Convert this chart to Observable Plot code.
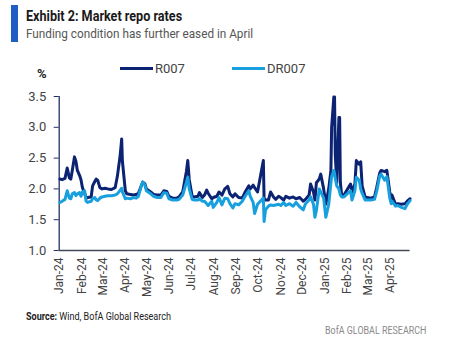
<!DOCTYPE html>
<html><head><meta charset="utf-8">
<script src="https://cdn.jsdelivr.net/npm/d3@7"></script>
<script src="https://cdn.jsdelivr.net/npm/@observablehq/plot@0.6"></script>
<style>
html,body{margin:0;padding:0;background:#fff;}
body{width:466px;height:344px;position:relative;overflow:hidden;font-family:"Roboto",sans-serif;color:#222;}
#bar{position:absolute;left:11px;top:5px;width:7px;height:37px;background:#1f5fc4;}
.sx{transform-origin:0 50%;}
#title{position:absolute;left:26px;top:8px;font-size:14px;font-weight:bold;color:#1a1a1a;white-space:nowrap;transform:scaleX(0.9);}
#subtitle{position:absolute;left:26px;top:25px;font-size:13.5px;color:#555;white-space:nowrap;transform:scaleX(0.87);}
#pct{position:absolute;left:37px;top:66px;font-size:13px;font-weight:bold;color:#222;}
.leg{position:absolute;top:61px;font-size:13px;color:#444;white-space:nowrap;}
.leg span.sw{display:inline-block;width:33px;height:3.5px;vertical-align:middle;margin-right:2px;margin-top:-2px;}
#chart{position:absolute;left:0;top:60px;}
#source{position:absolute;left:26px;top:310px;font-size:10.5px;color:#222;white-space:nowrap;transform:scaleX(0.86);}
#brand{position:absolute;left:325px;top:324px;font-size:10.5px;color:#8a8a8a;white-space:nowrap;transform:scaleX(0.85);}
</style></head><body>
<div id="bar"></div>
<div id="title" class="sx">Exhibit 2: Market repo rates</div>
<div id="subtitle" class="sx">Funding condition has further eased in April</div>
<div id="pct">%</div>
<div class="leg" id="leg1" style="left:120px"></div>
<div class="leg" id="leg2" style="left:232px"></div>
<div id="chart"></div>
<div id="source" class="sx"><b>Source:</b> Wind, BofA Global Research</div>
<div id="brand" class="sx">BofA GLOBAL RESEARCH</div>
<script>
const dates = [
"2024-01-02","2024-01-05","2024-01-09","2024-01-12","2024-01-15","2024-01-17","2024-01-19","2024-01-22","2024-01-24","2024-01-26",
"2024-01-29","2024-01-31","2024-02-02","2024-02-05","2024-02-07","2024-02-09","2024-02-14","2024-02-16","2024-02-19","2024-02-21",
"2024-02-23","2024-02-26","2024-02-29","2024-03-04","2024-03-08","2024-03-13","2024-03-18","2024-03-21","2024-03-25","2024-03-27",
"2024-03-28","2024-04-01","2024-04-03","2024-04-08","2024-04-12","2024-04-16","2024-04-19","2024-04-23","2024-04-25","2024-04-28",
"2024-04-30","2024-05-06","2024-05-10","2024-05-15","2024-05-20","2024-05-24","2024-05-28","2024-05-31","2024-06-05","2024-06-11",
"2024-06-14","2024-06-19","2024-06-24","2024-06-26","2024-06-28","2024-07-02","2024-07-05","2024-07-10","2024-07-12","2024-07-16",
"2024-07-19","2024-07-22","2024-07-24","2024-07-29","2024-07-31","2024-08-05","2024-08-08","2024-08-12","2024-08-16","2024-08-20",
"2024-08-23","2024-08-27","2024-08-30","2024-09-04","2024-09-09","2024-09-13","2024-09-18","2024-09-20","2024-09-24","2024-09-26",
"2024-09-30","2024-10-08","2024-10-09","2024-10-11","2024-10-15","2024-10-18","2024-10-22","2024-10-25","2024-10-29","2024-11-01",
"2024-11-05","2024-11-08","2024-11-13","2024-11-18","2024-11-22","2024-11-27","2024-12-02","2024-12-05","2024-12-10","2024-12-12",
"2024-12-16","2024-12-18","2024-12-20","2024-12-24","2024-12-26","2024-12-30","2025-01-02","2025-01-06","2025-01-09","2025-01-10",
"2025-01-13","2025-01-14","2025-01-15","2025-01-17","2025-01-20","2025-01-21","2025-01-22","2025-01-24","2025-01-27","2025-02-05",
"2025-02-07","2025-02-11","2025-02-13","2025-02-17","2025-02-19","2025-02-21","2025-02-25","2025-02-28","2025-03-05","2025-03-10",
"2025-03-13","2025-03-17","2025-03-19","2025-03-24","2025-03-27","2025-03-31","2025-04-02","2025-04-03","2025-04-08","2025-04-11",
"2025-04-16","2025-04-21","2025-04-24","2025-04-28"];
const r007 = [
2.16,2.15,2.17,2.34,2.18,2.16,2.30,2.52,2.45,2.30,
2.22,2.15,2.02,1.93,1.85,1.86,1.87,2.05,2.12,2.16,
2.14,2.02,2.00,2.01,2.00,1.99,2.02,2.20,2.55,2.81,
2.45,1.97,1.92,1.91,1.90,1.91,1.93,2.05,2.11,2.08,
2.00,1.95,1.91,1.90,1.90,1.97,1.96,1.88,1.85,1.85,
1.87,1.95,2.28,2.46,2.15,1.88,1.87,1.88,1.94,1.86,
1.90,1.98,1.93,1.84,1.86,1.88,1.95,1.90,2.00,2.04,
1.92,1.87,1.92,1.86,1.85,1.95,2.05,2.00,2.06,2.02,
1.95,2.46,1.85,1.82,1.82,1.95,1.87,1.83,1.88,1.86,
1.82,1.88,1.85,1.87,1.84,1.86,1.80,1.83,1.90,2.08,
1.95,1.82,2.10,2.16,2.24,2.00,1.75,2.00,2.30,3.00,
3.49,3.49,2.55,2.10,3.16,3.16,2.10,1.88,1.90,2.08,
1.95,2.08,2.46,2.40,2.44,2.05,1.87,1.86,1.85,1.87,
2.02,2.25,2.30,2.28,2.30,1.95,1.82,1.90,1.75,1.76,
1.75,1.76,1.80,1.84];
const dr007 = [
1.78,1.80,1.83,1.97,1.85,1.84,1.92,1.94,1.89,1.92,
1.94,1.88,1.95,1.97,1.80,1.78,1.80,1.84,1.86,1.82,
1.81,1.85,1.87,1.88,1.89,1.89,1.90,1.92,1.98,2.01,
1.95,1.84,1.85,1.84,1.86,1.85,1.88,2.05,2.11,2.06,
1.97,1.92,1.88,1.86,1.86,1.94,1.93,1.84,1.82,1.82,
1.83,1.90,2.10,2.19,2.00,1.83,1.82,1.82,1.84,1.80,
1.80,1.76,1.73,1.80,1.70,1.78,1.86,1.74,1.85,1.84,
1.76,1.69,1.76,1.74,1.80,1.88,1.97,1.88,1.78,1.60,
1.75,1.85,1.47,1.66,1.72,1.74,1.73,1.74,1.75,1.73,
1.78,1.73,1.76,1.72,1.78,1.71,1.66,1.76,1.82,1.87,
1.75,1.54,1.65,2.00,1.95,1.85,1.54,1.75,2.10,2.20,
2.30,2.25,2.17,2.05,2.00,1.95,1.90,1.87,1.87,1.97,
1.82,1.97,2.19,2.14,2.00,1.93,1.82,1.82,1.82,1.83,
1.96,2.20,2.24,2.14,2.20,1.85,1.76,1.80,1.72,1.73,
1.70,1.68,1.75,1.81];
const seriesNames = ["R007","DR007"];
const seriesColors = ["#0c2272","#18a0de"];
const yTicks = [1.0,1.5,2.0,2.5,3.0,3.5];
const xTicks = ["2024-01-01","2024-02-01","2024-03-01","2024-04-01","2024-05-01","2024-06-01","2024-07-01","2024-08-01",
"2024-09-01","2024-10-01","2024-11-01","2024-12-01","2025-01-01","2025-02-01","2025-03-01","2025-04-01"];
const xDomain = ["2024-01-01","2025-04-28"];

const parse = d3.utcParse("%Y-%m-%d");
const rows = [];
dates.forEach((d,i)=>{ rows.push({date:parse(d), value:r007[i], series:seriesNames[0]}); });
dates.forEach((d,i)=>{ rows.push({date:parse(d), value:dr007[i], series:seriesNames[1]}); });

document.getElementById("leg1").innerHTML = `<span class="sw" style="background:${seriesColors[0]}"></span>${seriesNames[0]}`;
document.getElementById("leg2").innerHTML = `<span class="sw" style="background:${seriesColors[1]}"></span>${seriesNames[1]}`;

const chart = Plot.plot({
  width: 466, height: 245,
  marginLeft: 58.7, marginRight: 56.4, marginTop: 36, marginBottom: 55,
  style: {fontFamily: '"Roboto",sans-serif', fontSize: "12px", color: "#444", background: "transparent"},
  x: {type: "utc", domain: xDomain.map(parse), ticks: xTicks.map(parse), tickFormat: d3.utcFormat("%b-%y"), label: null},
  y: {domain: [1, 3.5], ticks: yTicks, tickFormat: d3.format(".1f"), label: null},
  color: {domain: seriesNames, range: seriesColors},
  marks: [
    Plot.axisY({ticks: yTicks, tickFormat: d3.format(".1f"), tickSize: 5, tickPadding: 8, fontSize: 13, stroke: "#233066", label: null}),
    Plot.axisX({ticks: xTicks.map(parse), tickFormat: d3.utcFormat("%b-%y"), tickSize: 0, tickPadding: 7, tickRotate: -90, textAnchor: "end", fontSize: 12, label: null}),
    Plot.ruleX([parse(xDomain[0])], {stroke: "#233066", strokeWidth: 1.3}),
    Plot.ruleY([1], {stroke: "#444a55", strokeWidth: 1.3}),
    Plot.line(rows, {x: "date", y: "value", z: "series", stroke: "series", strokeWidth: 3, strokeLinejoin: "round", curve: "linear"})
  ]
});
document.getElementById("chart").appendChild(chart);
</script>
</body></html>
